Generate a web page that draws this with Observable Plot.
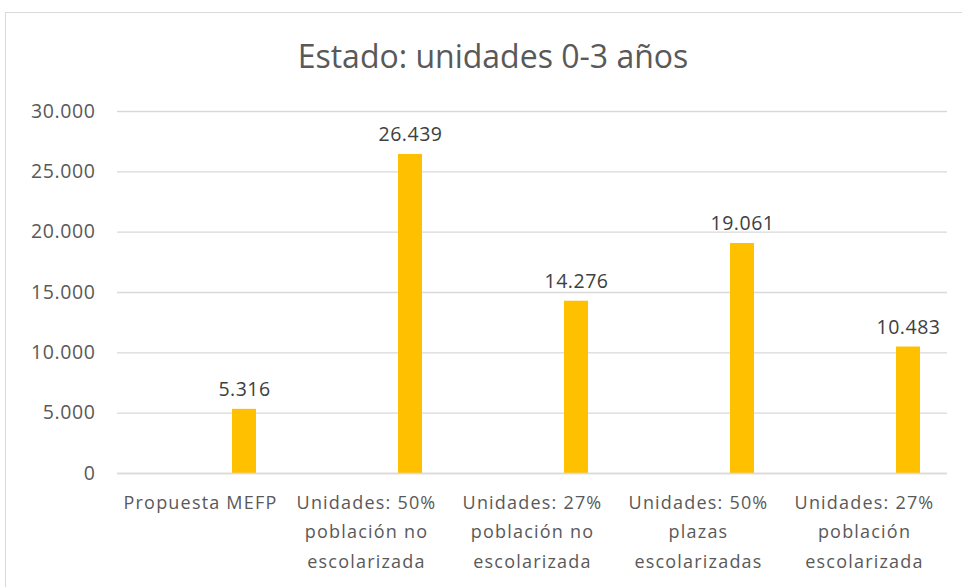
<!DOCTYPE html>
<html>
<head>
<meta charset="utf-8">
<script src="https://cdn.jsdelivr.net/npm/d3@7"></script>
<script src="https://cdn.jsdelivr.net/npm/@observablehq/plot@0.6"></script>
<style>
  html, body { margin: 0; padding: 0; background: #fff; }
  #wrap { position: relative; width: 962px; height: 587px; overflow: hidden; font-family: "Open Sans", Lato, sans-serif; }
  #frame { position: absolute; left: 5px; top: 12px; width: 1000px; height: 1000px; border: 1px solid #d9d9d9; box-sizing: border-box; }
  #title { position: relative; height: 96px; width: 962px; text-align: center; font-size: 32px; color: #595959; line-height: 90px; padding-left: 24px; box-sizing: border-box; padding-top: 11px; }
  #chart { position: relative; }
  #chart svg g[aria-label="x-axis tick label"] { letter-spacing: 1.2px; }
  #chart svg g[aria-label="y-axis tick label"] { letter-spacing: 0.6px; }
  #chart svg g[aria-label="text"] { letter-spacing: 0.5px; }
</style>
</head>
<body>
<div id="wrap">
  <div id="frame"></div>
  <div id="title">Estado: unidades 0-3 años</div>
  <div id="chart"></div>
</div>
<script>
const categories = [
  "Propuesta MEFP",
  "Unidades: 50%\npoblación no\nescolarizada",
  "Unidades: 27%\npoblación no\nescolarizada",
  "Unidades: 50%\nplazas\nescolarizadas",
  "Unidades: 27%\npoblación\nescolarizada"
];
const values = [5316, 26439, 14276, 19061, 10483];
const yTicks = [0, 5000, 10000, 15000, 20000, 25000, 30000];

const data = categories.map((c, i) => ({category: c, value: values[i]}));
const fmt = d3.formatLocale({decimal: ",", thousands: ".", grouping: [3], currency: ["", "€"]}).format(",d");

const chart = Plot.plot({
  width: 962,
  height: 491,
  marginTop: 15,
  marginLeft: 117,
  marginRight: 15,
  marginBottom: 114,
  style: {fontFamily: "'Open Sans', Lato, sans-serif", color: "#595959", background: "transparent"},
  x: {domain: categories, paddingInner: 0.855, paddingOuter: 0.4275, label: null},
  y: {domain: [0, 30000], label: null},
  marks: [
    Plot.gridY(yTicks, {stroke: "#d9d9d9", strokeOpacity: 1, strokeWidth: 1.3}),
    Plot.barY(data, {x: "category", y: "value", fill: "#ffc000", dx: 44}),
    Plot.ruleY([0], {stroke: "#d9d9d9", strokeWidth: 1.5}),
    Plot.axisY(yTicks, {tickSize: 0, tickPadding: 22, tickFormat: fmt, fontSize: 19.5, fill: "#595959"}),
    Plot.axisX({tickSize: 0, tickPadding: 15, fontSize: 18, lineHeight: 1.62, fill: "#595959"}),
    Plot.text(data, {x: "category", y: "value", text: d => fmt(d.value), dx: 44, dy: -13, fontSize: 19.5, fill: "#404040", lineAnchor: "bottom"})
  ]
});
document.getElementById("chart").appendChild(chart);
</script>
</body>
</html>
